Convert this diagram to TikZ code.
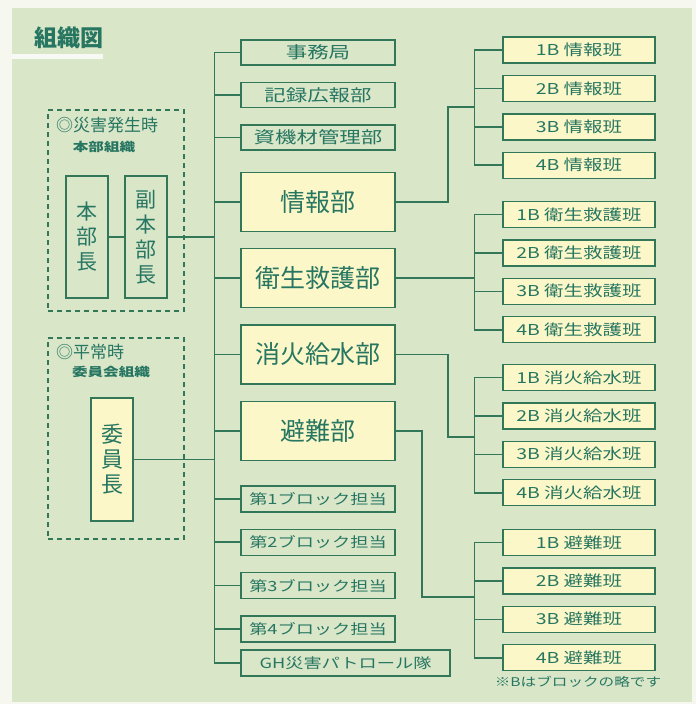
\documentclass[tikz,border=0pt]{standalone}
\usepackage{fontspec}
\setmainfont{Noto Sans CJK JP}
\newfontfamily\jpwide{Noto Sans CJK JP}[FakeStretch=1.3]
\usetikzlibrary{positioning}

\definecolor{pagewhite}{RGB}{246,248,240}
\definecolor{panelgreen}{RGB}{217,230,200}
\definecolor{linegreen}{RGB}{50,120,88}
\definecolor{textteal}{RGB}{38,118,98}
\definecolor{boxyellow}{RGB}{252,247,200}

\begin{document}
\begin{tikzpicture}[
  x=1pt, y=-1pt,
  node distance=16pt,
  every node/.style={text=textteal, inner sep=0pt},
  sub/.style={draw=linegreen, line width=1.4pt, fill=panelgreen, minimum width=154pt, minimum height=25pt, font=\jpwide\fontsize{16.5}{16.5}\selectfont},
  block/.style={sub, minimum height=26pt, font=\jpwide\fontsize{14}{14}\selectfont},
  dept/.style={draw=linegreen, line width=1.4pt, fill=boxyellow, minimum width=154pt, minimum height=59pt, font=\fontsize{25}{25}\selectfont},
  team/.style={draw=linegreen, line width=1.4pt, fill=boxyellow, minimum width=152pt, minimum height=26pt, font=\jpwide\fontsize{15}{15}\selectfont},
  head/.style={draw=linegreen, line width=1.4pt, fill=panelgreen, minimum width=42pt, minimum height=122pt, align=center, font=\fontsize{21}{25}\selectfont},
  group/.style={draw=linegreen, line width=1.2pt, dash pattern=on 5pt off 4pt, minimum width=136pt, minimum height=201pt},
  link/.style={draw=linegreen, line width=1.6pt}
]
\useasboundingbox (0,0) rectangle (696,704);

% background
\fill[pagewhite] (0,0) rectangle (696,704);
\fill[panelgreen] (12,8) rectangle (692,702);
\fill[white, opacity=0.8] (12,54) rectangle (103,59);
\node (title) [font=\bfseries\fontsize{23}{23}\selectfont] at (69,38) {組織図};

% left groups
\node (saigai) [group] at (116,210.5) {};
\node (saigaitxt) [anchor=west, font=\fontsize{17}{17}\selectfont] at (56,125) {◎災害発生時};
\node (honbusoshiki) [font=\bfseries\jpwide\fontsize{12}{12}\selectfont] at (104,147) {本部組織};
\node (honbu) [head] at (87,237) {本\\部\\長};
\node (fuku) [head] at (146,237) {副\\本\\部\\長};

\node (heijo) [group] at (116,438.5) {};
\node (heijotxt) [anchor=west, font=\fontsize{17}{17}\selectfont] at (56,352) {◎平常時};
\node (iinkai) [font=\bfseries\jpwide\fontsize{12}{12}\selectfont] at (111,372) {委員会組織};
\node (iin) [head, fill=boxyellow, minimum height=123pt, font=\fontsize{22}{25}\selectfont] at (112,459.5) {委\\員\\長};

% middle column
\node (jimu) [sub] at (318,52.5) {事務局};
\node (kiroku) [sub, below=of jimu] {記録広報部};
\node (shiki) [sub, below=of kiroku] {資機材管理部};
\node (joho) [dept, below=21pt of shiki] {情報部};
\node (eisei) [dept, below=of joho] {衛生救護部};
\node (shoka) [dept, below=of eisei] {消火給水部};
\node (hinan) [dept, below=of shoka] {避難部};
\node (blk1) [block, below=24pt of hinan] {第1ブロック担当};
\node (blk2) [block, below=of blk1] {第2ブロック担当};
\node (blk3) [block, below=of blk2] {第3ブロック担当};
\node (blk4) [block, below=of blk3] {第4ブロック担当};
\node (gh) [block, minimum width=209pt] at (345.5,663) {GH災害パトロール隊};

% right column
\coordinate (rbus) at (475,0);
\foreach \g/\y/\tname in {j/50/情報班, e/214.5/衛生救護班, s/377.5/消火給水班, h/542.5/避難班} {
  \node (\g1) [team] at (579,\y) {1B \tname};
  \foreach \i [count=\k from 1] in {2,3,4} {
    \node (\g\i) [team, below=11pt of \g\k] {\i B \tname};
  }
  \draw[link] (\g1.west) -- ++(-28pt,0) |- (\g4.west);
  \draw[link] (\g2.west) -- ++(-28pt,0);
  \draw[link] (\g3.west) -- ++(-28pt,0);
}
\node (note) [font=\jpwide\fontsize{12}{12}\selectfont] at (578,682) {※Bはブロックの略です};

% trunk
\coordinate (trunktop) at (214.5,52.5);
\draw[link] (jimu.west) -- (trunktop) |- (gh.west);
\foreach \n in {kiroku,shiki,joho,eisei,shoka,hinan,blk1,blk2,blk3,blk4}
  \draw[link] (\n.west) -- (\n.west -| trunktop);
\draw[link] (honbu) -- (fuku);
\draw[link] (fuku.east) -- (fuku.east -| trunktop);
\draw[link] (iin.east) -- (iin.east -| trunktop);

% departments to teams
\coordinate (jbend) at (448,107);
\coordinate (sbend) at (448,437);
\coordinate (hbend) at (422,597);
\draw[link] (joho.east) -| (jbend) -- (jbend -| rbus);
\draw[link] (eisei.east) -- (eisei.east -| rbus);
\draw[link] (shoka.east) -| (sbend) -- (sbend -| rbus);
\draw[link] (hinan.east) -| (hbend) -- (hbend -| rbus);

\end{tikzpicture}
\end{document}
